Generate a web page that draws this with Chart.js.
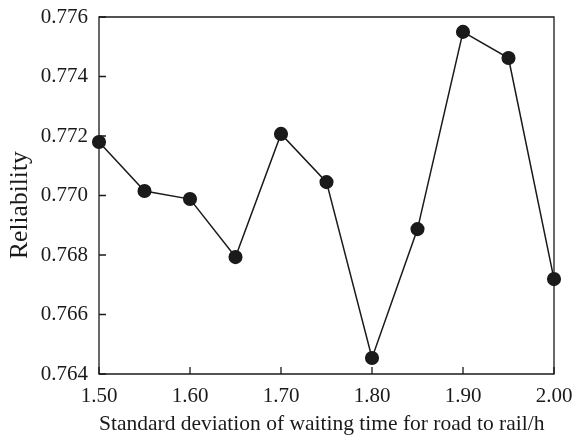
<!DOCTYPE html>
<html>
<head>
<meta charset="utf-8">
<script src="https://cdn.jsdelivr.net/npm/chart.js@4/dist/chart.umd.min.js"></script>
<style>
  html, body { margin: 0; padding: 0; background: #ffffff; }
  #wrap { width: 575px; height: 435px; }
</style>
</head>
<body>
<div id="wrap"><canvas id="c" width="575" height="435"></canvas></div>
<script>
const xValues = [1.50, 1.55, 1.60, 1.65, 1.70, 1.75, 1.80, 1.85, 1.90, 1.95, 2.00];
const reliability = [0.7718, 0.77015, 0.76988, 0.76793, 0.77207, 0.77045, 0.76454, 0.76887, 0.7755, 0.77462, 0.76719];
const xTicks = [1.50, 1.60, 1.70, 1.80, 1.90, 2.00];
const yTicks = [0.764, 0.766, 0.768, 0.770, 0.772, 0.774, 0.776];
const xTitle = 'Standard deviation of waiting time for road to rail/h';
const yTitle = 'Reliability   ';

const FONT = '"Liberation Serif", "Times New Roman", serif';
const INK = '#1a1a1a';

const frameTicks = {
  id: 'frameTicks',
  afterDatasetsDraw(chart) {
    const ctx = chart.ctx;
    const a = chart.chartArea;
    const xs = chart.scales.x, ys = chart.scales.y;
    ctx.save();
    ctx.strokeStyle = INK;
    ctx.lineWidth = 1.3;
    ctx.beginPath();
    ctx.rect(a.left, a.top, a.right - a.left, a.bottom - a.top);
    ctx.stroke();
    const L = 7;
    ctx.beginPath();
    xTicks.forEach(v => {
      const px = xs.getPixelForValue(v);
      ctx.moveTo(px, a.bottom);
      ctx.lineTo(px, a.bottom - L);
    });
    yTicks.forEach(v => {
      const py = ys.getPixelForValue(v);
      ctx.moveTo(a.left, py);
      ctx.lineTo(a.left + L, py);
    });
    ctx.stroke();
    ctx.restore();
  }
};

new Chart(document.getElementById('c'), {
  type: 'line',
  data: {
    datasets: [{
      data: xValues.map((x, i) => ({ x: x, y: reliability[i] })),
      borderColor: INK,
      backgroundColor: INK,
      borderWidth: 1.5,
      pointRadius: 6.3,
      pointHoverRadius: 6.3,
      pointBackgroundColor: INK,
      pointBorderColor: INK,
      tension: 0,
      clip: false
    }]
  },
  options: {
    responsive: false,
    animation: false,
    devicePixelRatio: 1,
    layout: { padding: { top: 17, right: 21, left: 0, bottom: 0 } },
    plugins: { legend: { display: false }, tooltip: { enabled: false } },
    scales: {
      x: {
        type: 'linear',
        min: 1.5, max: 2.0,
        afterBuildTicks: s => { s.ticks = xTicks.map(v => ({ value: v })); },
        afterFit: s => { s.height = 61; s.paddingLeft = 0; s.paddingRight = 0; },
        grid: { display: false, drawTicks: false },
        border: { display: false },
        ticks: {
          color: INK,
          font: { family: FONT, size: 21 },
          padding: 10,
          maxRotation: 0,
          callback: v => Number(v).toFixed(2)
        },
        title: {
          display: true,
          text: xTitle,
          align: 'start',
          color: INK,
          font: { family: FONT, size: 21.5, lineHeight: 1.0 },
          padding: { top: 4, bottom: 0 }
        }
      },
      y: {
        type: 'linear',
        min: 0.764, max: 0.776,
        afterBuildTicks: s => { s.ticks = yTicks.map(v => ({ value: v })); },
        afterFit: s => { s.width = 99; s.paddingTop = 0; s.paddingBottom = 0; },
        grid: { display: false, drawTicks: false },
        border: { display: false },
        ticks: {
          color: INK,
          font: { family: FONT, size: 21 },
          padding: 11,
          callback: v => Number(v).toFixed(3)
        },
        title: {
          display: true,
          text: yTitle,
          color: INK,
          font: { family: FONT, size: 25.5 },
          padding: { top: 5, bottom: 4 }
        }
      }
    }
  },
  plugins: [frameTicks]
});
</script>
</body>
</html>
